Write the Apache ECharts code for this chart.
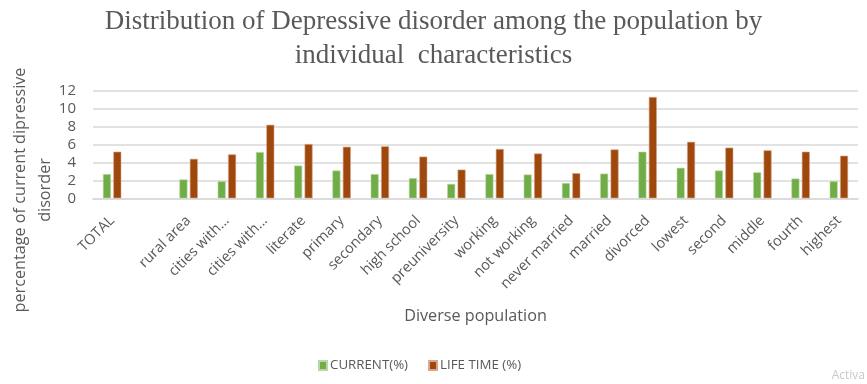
<!DOCTYPE html>
<html>
<head>
<meta charset="utf-8">
<script src="https://cdn.jsdelivr.net/npm/echarts@6/dist/echarts.min.js"></script>
<style>
  html, body { margin: 0; padding: 0; background: #ffffff; }
  #chart { width: 867px; height: 384px; }
</style>
</head>
<body>
<div id="chart"></div>
<script>
// Groups of the population (empty slot separates the total from the subgroups)
const categories = [
  'TOTAL', '', 'rural area', 'cities with...', 'cities with...', 'literate',
  'primary', 'secondary', 'high school', 'preuniversity', 'working',
  'not working', 'never married', 'married', 'divorced', 'lowest',
  'second', 'middle', 'fourth', 'highest'
];

// Current prevalence of depressive disorder (%)
const currentValues = [
  2.7, null, 2.1, 1.9, 5.15, 3.65,
  3.1, 2.7, 2.25, 1.6, 2.7,
  2.65, 1.7, 2.75, 5.2, 3.4,
  3.1, 2.9, 2.2, 1.9
];

// Lifetime prevalence of depressive disorder (%)
const lifetimeValues = [
  5.2, null, 4.4, 4.9, 8.2, 6.05,
  5.75, 5.8, 4.65, 3.2, 5.5,
  5.0, 2.8, 5.45, 11.3, 6.3,
  5.65, 5.35, 5.2, 4.75
];

const yTicks = { min: 0, max: 12, interval: 2 };

const gray = '#595959';
const chart = echarts.init(document.getElementById('chart'), null, { renderer: 'canvas' });

chart.setOption({
  animation: false,
  title: {
    text: 'Distribution of Depressive disorder among the population by\nindividual  characteristics',
    left: 'center',
    top: 0,
    textStyle: {
      fontFamily: 'Liberation Serif',
      fontWeight: 'normal',
      fontSize: 27,
      lineHeight: 34,
      color: gray
    }
  },
  legend: {
    top: 354,
    left: 313,
    itemWidth: 8,
    itemHeight: 9,
    itemGap: 20,
    icon: 'rect',
    textStyle: { fontFamily: 'Open Sans', fontSize: 13.3, color: gray, padding: [0, 0, 0, -2] },
    data: ['CURRENT(%)', 'LIFE TIME (%)']
  },
  grid: {
    left: 93,
    right: 9,
    top: 90.7,
    bottom: 185.7,
    containLabel: false
  },
  xAxis: {
    type: 'category',
    data: categories,
    name: 'Diverse population',
    nameLocation: 'middle',
    nameGap: 110,
    nameTextStyle: { fontFamily: 'Open Sans', fontSize: 16.2, color: gray },
    axisLine: { lineStyle: { color: '#d9d9d9', width: 1.5 } },
    axisTick: { show: false },
    axisLabel: {
      interval: 0,
      rotate: 45,
      margin: 20,
      fontFamily: 'Open Sans',
      fontSize: 14.5,
      color: gray
    }
  },
  yAxis: {
    type: 'value',
    min: yTicks.min,
    max: yTicks.max,
    interval: yTicks.interval,
    axisLine: { show: false },
    axisTick: { show: false },
    axisLabel: { fontFamily: 'Open Sans', fontSize: 15, color: gray, margin: 17 },
    splitLine: { lineStyle: { color: '#d9d9d9', width: 1.5 } }
  },
  series: [
    {
      name: 'CURRENT(%)',
      type: 'bar',
      data: currentValues,
      barWidth: 8,
      barGap: '30%',
      itemStyle: { color: '#70ad47', borderColor: '#b7d8a3', borderWidth: 0.6 }
    },
    {
      name: 'LIFE TIME (%)',
      type: 'bar',
      data: lifetimeValues,
      barWidth: 8,
      barGap: '30%',
      itemStyle: { color: '#9e480e', borderColor: '#d9a68a', borderWidth: 0.6 }
    }
  ],
  graphic: [
    {
      // vertical axis title, two lines
      type: 'text',
      x: 33,
      y: 190,
      rotation: Math.PI / 2,
      style: {
        text: 'percentage of current dipressive\ndisorder',
        fontFamily: 'Open Sans',
        fontSize: 16.2,
        lineHeight: 25,
        fill: gray,
        align: 'center',
        verticalAlign: 'middle'
      }
    },
    {
      type: 'text',
      right: 2,
      bottom: 2,
      style: { text: 'Activa', fontFamily: 'Open Sans', fontSize: 12, fill: '#c8c8c8' }
    }
  ]
});
</script>
</body>
</html>
